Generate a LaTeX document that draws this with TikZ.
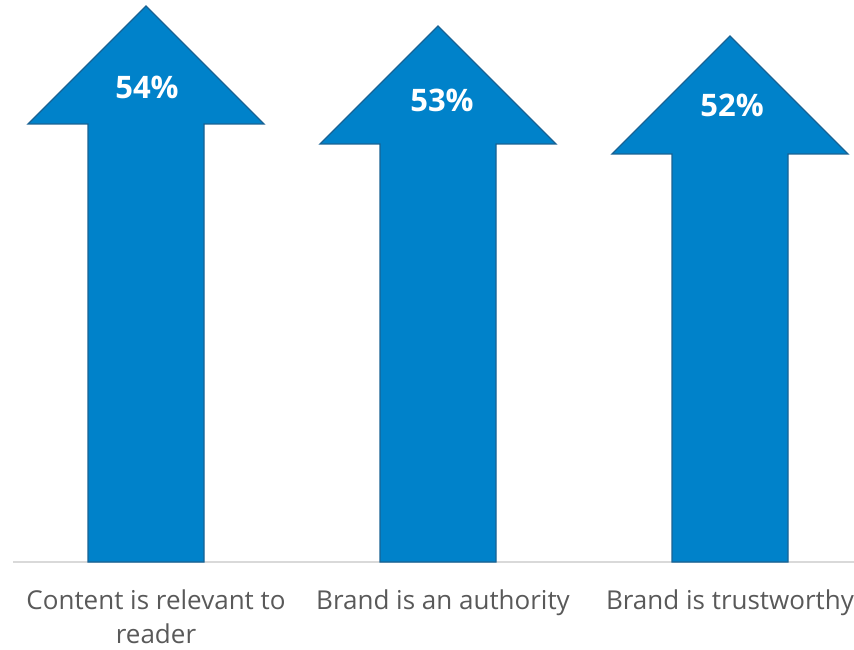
\documentclass[tikz,border=0pt]{standalone}
\usepackage{fontspec}
\setmainfont{Open Sans}
\definecolor{arrowfill}{RGB}{0,130,202}
\definecolor{arrowline}{RGB}{24,98,148}
\definecolor{basegray}{RGB}{217,217,217}
\definecolor{labelgray}{RGB}{89,89,89}
\tikzset{
  uparrow/.style={fill=arrowfill, draw=arrowline, line width=1.3pt, line join=miter},
  pct/.style={text=white, font=\fontsize{31}{36}\selectfont\bfseries, inner sep=0pt},
  catlabel/.style={text=labelgray, font=\fontsize{26}{34}\selectfont, align=center, inner sep=0pt, anchor=north},
}
\begin{document}
\begin{tikzpicture}[x=1pt,y=-1pt]
\useasboundingbox (0,0) rectangle (854,650);
% baseline
\coordinate (bl) at (13,562);
\coordinate (br) at (854,562);
\draw[basegray, line width=1.6pt] (bl) -- (br);
% arrows: center c, tip y t
\foreach \c/\t in {146/6, 438/26, 730/36}{
  \draw[uparrow] (\c,\t) -- (\c+118,\t+118) -- (\c+58,\t+118) -- (\c+58,562)
     -- (\c-58,562) -- (\c-58,\t+118) -- (\c-118,\t+118) -- cycle;
}
\node[pct] (p1) at (147,87) {54\%};
\node[pct] (p2) at (442,100) {53\%};
\node[pct] (p3) at (732,105) {52\%};
\node[catlabel] (l1) at (156,590) {Content is relevant to\\reader};
\node[catlabel] (l2) at (443,590) {Brand is an authority};
\node[catlabel] (l3) at (730,590) {Brand is trustworthy};
\end{tikzpicture}
\end{document}
